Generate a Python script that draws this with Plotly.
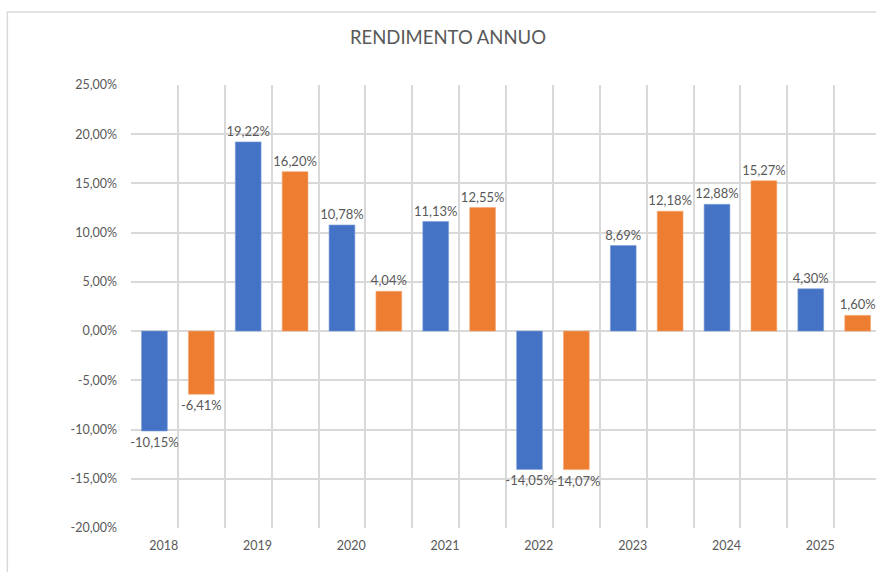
import plotly.graph_objects as go

years = ["2018", "2019", "2020", "2021", "2022", "2023", "2024", "2025"]
serie_blu = [-10.15, 19.22, 10.78, 11.13, -14.05, 8.69, 12.88, 4.30]
serie_arancio = [-6.41, 16.20, 4.04, 12.55, -14.07, 12.18, 15.27, 1.60]
y_ticks = [-20, -15, -10, -5, 0, 5, 10, 15, 20, 25]

BLUE = "#4472C4"
ORANGE = "#ED7D31"
TXT = "#595959"
GRID = "#D9D9D9"
FONT = "Lato"

def fmt(v):
    return f"{v:.2f}".replace(".", ",") + "%"

x_blu = [2 * i for i in range(len(years))]
x_ara = [2 * i + 1 for i in range(len(years))]

fig = go.Figure()
fig.add_trace(go.Bar(x=x_blu, y=serie_blu, width=0.55, marker_color=BLUE,
                     marker_line=dict(color="#7F9FDA", width=0.6),
                     text=[fmt(v) for v in serie_blu], textposition="outside",
                     constraintext="none", cliponaxis=False,
                     textfont=dict(family=FONT, size=13, color=TXT)))
fig.add_trace(go.Bar(x=x_ara, y=serie_arancio, width=0.55, marker_color=ORANGE,
                     marker_line=dict(color="#F4A873", width=0.6),
                     text=[fmt(v) for v in serie_arancio], textposition="outside",
                     constraintext="none", cliponaxis=False,
                     textfont=dict(family=FONT, size=13, color=TXT)))

n_slots = 2 * len(years)
left, top, bottom_px = 130.7, 85.0, 527.7
W, H = 876, 572
plot_w = W - left
slot_px = 46.9
xmax = -0.5 + plot_w / slot_px

fig.update_layout(
    width=W, height=H,
    margin=dict(l=left, r=0, t=top, b=H - bottom_px, pad=0, autoexpand=False),
    paper_bgcolor="white", plot_bgcolor="white",
    barmode="overlay", showlegend=False,
    font=dict(family=FONT, color=TXT),
    title=dict(text="RENDIMENTO ANNUO", x=448 / W, xref="container", xanchor="center",
               y=1 - 38 / H, yref="container", yanchor="middle",
               font=dict(family=FONT, size=18.5, color=TXT)),
    xaxis=dict(range=[-0.5, xmax], tickvals=[k - 0.5 for k in range(n_slots)],
               ticktext=[""] * n_slots, showgrid=True, gridcolor=GRID, gridwidth=1.5,
               zeroline=False, showline=False, ticks="", fixedrange=True, automargin=False),
    xaxis2=dict(overlaying="x", matches="x", side="bottom",
                tickvals=[2 * i + 0.2 for i in range(len(years))], ticktext=years,
                showgrid=False, zeroline=False, showline=False, ticks="", automargin=False,
                tickfont=dict(family=FONT, size=12.5, color=TXT), ticklabelstandoff=8),
    yaxis=dict(range=[-20, 25], tickvals=y_ticks, ticktext=[fmt(v) for v in y_ticks],
               showgrid=True, gridcolor=GRID, gridwidth=1.5, zeroline=True,
               zerolinecolor=GRID, zerolinewidth=1.5, showline=False, ticks="",
               automargin=False,
               tickfont=dict(family=FONT, size=12.5, color=TXT), ticklabelstandoff=13),
)
# invisible trace to activate xaxis2
fig.add_trace(go.Scatter(x=[0], y=[0], xaxis="x2", mode="markers",
                         marker=dict(opacity=0), hoverinfo="skip", showlegend=False))

# chart border (cropped on right and bottom)
fig.add_shape(type="rect", xref="paper", yref="paper",
              x0=(7 - left) / plot_w, x1=1.2,
              y0=-0.3, y1=(bottom_px - 12) / (bottom_px - top),
              line=dict(color=GRID, width=1.5), layer="below")

fig.write_html("out.html", config={"displayModeBar": False},
               post_script="document.body.style.margin='0';")
